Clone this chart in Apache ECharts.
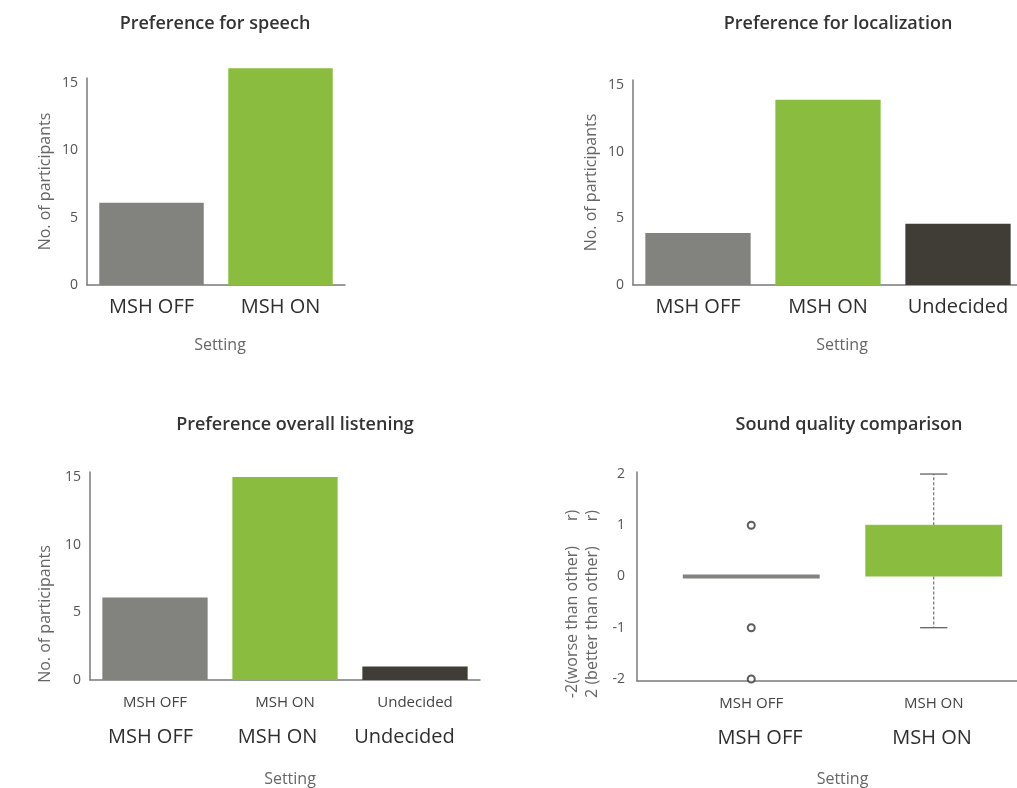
<!DOCTYPE html>
<html><head><meta charset="utf-8">
<script src="https://cdn.jsdelivr.net/npm/echarts@6/dist/echarts.min.js"></script>
<style>html,body{margin:0;padding:0;background:#fff;} #c{width:1017px;height:788px;}</style>
</head><body><div id="c"></div>
<script>
// ---- data ----
const speechCats = ['MSH OFF', 'MSH ON'];
const speechVals = [6.1, 16.1];
const locCats = ['MSH OFF', 'MSH ON', 'Undecided'];
const locVals = [3.9, 13.9, 4.6];
const overallCats = ['MSH OFF', 'MSH ON', 'Undecided'];
const overallVals = [6.1, 15, 1];
const sqCats = ['MSH OFF', 'MSH ON'];
// [min, Q1, median, Q3, max]
const sqBox = [[0, 0, 0, 0, 0], [-1, 0, 1, 1, 2]];
const sqOutliers = [[0, 1], [0, -1], [0, -2]];
const countTicks = [0, 5, 10, 15];
const sqTicks = [-2, -1, 0, 1, 2];
const titles = ['Preference for speech', 'Preference for localization', 'Preference overall listening', 'Sound quality comparison'];
const yNameCount = 'No. of participants';
const yNameSq = '-2(worse than other)      r)\n2 (better than other)      r)';
const xName = 'Setting';

// ---- styles ----
const FONT = 'Open Sans';
const barColors = ['#82827e', '#8abd3f', '#403d36'];
const axisLineStyle = { color: '#7a7a7a', width: 1.5 };

const chart = echarts.init(document.getElementById('c'), null, { renderer: 'canvas' });

function grid(l, r, t, b) {
  return { left: l, right: r, top: t, bottom: b, containLabel: false, outerBoundsMode: 'none' };
}
function catAxis(gi, data, o) {
  return Object.assign({
    type: 'category', gridIndex: gi, data: data,
    axisLine: { show: true, lineStyle: axisLineStyle },
    axisTick: { show: false },
    axisLabel: { interval: 0, fontSize: 20, color: '#2e2e2e', margin: 12, fontFamily: FONT },
    splitLine: { show: false }
  }, o || {});
}
function countAxis(gi, o) {
  return Object.assign({
    type: 'value', gridIndex: gi, min: 0, max: 15.37, interval: 5,
    axisLine: { show: true, lineStyle: axisLineStyle },
    axisTick: { show: false },
    splitLine: { show: false },
    axisLabel: {
      customValues: countTicks, color: '#555', fontSize: 14, margin: 9, fontFamily: FONT,
      formatter: v => (countTicks.indexOf(v) >= 0 ? String(v) : '')
    },
    name: yNameCount, nameLocation: 'middle', nameGap: 34,
    nameTextStyle: { fontSize: 16, color: '#666', fontFamily: FONT }
  }, o || {});
}
function hiddenY(gi) { return { type: 'value', gridIndex: gi, show: false, min: 0, max: 1 }; }
function bars(xi, vals) {
  return {
    type: 'bar', xAxisIndex: xi, yAxisIndex: xi, barCategoryGap: '19%', clip: false,
    data: vals.map((v, i) => ({ value: v, itemStyle: { color: barColors[i] } })),
    silent: true
  };
}
function titleAt(text, x, y) {
  return { text: text, left: x, top: y, textAlign: 'center',
    textStyle: { fontSize: 18, fontWeight: 600, color: '#333', fontFamily: FONT } };
}
const nameStyle = (pad) => ({ fontSize: 16, color: '#666', fontFamily: FONT, padding: pad });

const option = {
  animation: false,
  backgroundColor: '#fff',
  textStyle: { fontFamily: FONT },
  title: [
    titleAt(titles[0], 210, 10),
    titleAt(titles[1], 833, 10),
    titleAt(titles[2], 290, 411),
    titleAt(titles[3], 844, 411)
  ],
  grid: [
    grid(87, 672, 78, 503),     // 0 speech
    grid(633, -6, 80, 503),     // 1 localization
    grid(90, 537, 472, 108),    // 2 overall
    grid(87, 549, 472, 108),    // 3 overall big labels
    grid(660, -8, 472, 107),    // 4 sound quality
    grid(637, 0, 472, 107),     // 5 sound quality axis line
    grid(674, -1, 472, 107)     // 6 sound quality big labels
  ],
  xAxis: [
    catAxis(0, speechCats, { name: xName, nameLocation: 'middle', nameGap: 52, nameTextStyle: nameStyle([0, 0, 0, 8]) }),
    catAxis(1, locCats, { name: xName, nameLocation: 'middle', nameGap: 52, nameTextStyle: nameStyle([0, 0, 0, 28]) }),
    catAxis(2, overallCats, {
      axisLabel: { interval: 0, fontSize: 15, color: '#444', margin: 15, fontFamily: FONT },
      name: xName, nameLocation: 'middle', nameGap: 91, nameTextStyle: nameStyle([0, 0, 0, 10])
    }),
    catAxis(3, overallCats, { axisLine: { show: false }, axisLabel: { interval: 0, fontSize: 20, color: '#2e2e2e', margin: 47, fontFamily: FONT } }),
    catAxis(4, sqCats, {
      axisLine: { show: false },
      axisLabel: { interval: 0, fontSize: 15, color: '#444', margin: 15, fontFamily: FONT },
      name: xName, nameLocation: 'middle', nameGap: 90, nameTextStyle: nameStyle([0, 0, 0, 0])
    }),
    { type: 'value', gridIndex: 5, min: 0, max: 1, axisLine: { show: true, lineStyle: axisLineStyle },
      axisTick: { show: false }, axisLabel: { show: false }, splitLine: { show: false } },
    catAxis(6, sqCats, { axisLine: { show: false }, axisLabel: { interval: 0, fontSize: 20, color: '#2e2e2e', margin: 47, fontFamily: FONT } })
  ],
  yAxis: [
    countAxis(0),
    countAxis(1, { max: 15.375 }),
    countAxis(2, { nameTextStyle: { fontSize: 16, color: '#666', fontFamily: FONT, padding: [0, 76, 0, 0] }, nameGap: 37 }),
    hiddenY(3),
    {
      type: 'value', gridIndex: 4, min: -2.04, max: 2.04, offset: 23,
      axisLine: { show: true, lineStyle: axisLineStyle },
      axisTick: { show: false }, splitLine: { show: false },
      axisLabel: {
        customValues: sqTicks, color: '#555', fontSize: 14, margin: 12, fontFamily: FONT,
        formatter: v => (Number.isInteger(v) ? String(v) : '')
      },
      name: yNameSq, nameLocation: 'middle', nameGap: 35,
      nameTextStyle: { fontSize: 16, color: '#666', fontFamily: FONT, lineHeight: 20, padding: [0, 55, 0, 0] }
    },
    hiddenY(5),
    hiddenY(6)
  ],
  series: [
    bars(0, speechVals),
    bars(1, locVals),
    bars(2, overallVals),
    {
      type: 'custom', xAxisIndex: 4, yAxisIndex: 4, silent: true,
      data: sqBox.map((d, i) => [i].concat(d)),
      encode: { x: 0, y: [1, 2, 3, 4, 5] },
      renderItem: function (params, api) {
        const xi = api.value(0);
        const pMin = api.coord([xi, api.value(1)]);
        const pQ1 = api.coord([xi, api.value(2)]);
        const pMed = api.coord([xi, api.value(3)]);
        const pQ3 = api.coord([xi, api.value(4)]);
        const pMax = api.coord([xi, api.value(5)]);
        const band = api.size([1, 0])[0];
        const bw = band * 0.75;
        const cw = band * 0.15;
        const cx = pMed[0];
        const color = barColors[xi];
        const kids = [];
        const wStyle = { stroke: '#555', lineWidth: 1, lineDash: [3, 2] };
        const cStyle = { stroke: '#555', lineWidth: 1.2 };
        if (pMax[1] < pQ3[1] - 0.5) {
          kids.push({ type: 'line', shape: { x1: cx, y1: pQ3[1], x2: cx, y2: pMax[1] }, style: wStyle });
          kids.push({ type: 'line', shape: { x1: cx - cw / 2, y1: pMax[1], x2: cx + cw / 2, y2: pMax[1] }, style: cStyle });
        }
        if (pMin[1] > pQ1[1] + 0.5) {
          kids.push({ type: 'line', shape: { x1: cx, y1: pQ1[1], x2: cx, y2: pMin[1] }, style: wStyle });
          kids.push({ type: 'line', shape: { x1: cx - cw / 2, y1: pMin[1], x2: cx + cw / 2, y2: pMin[1] }, style: cStyle });
        }
        kids.push({ type: 'rect', shape: { x: cx - bw / 2, y: pQ3[1], width: bw, height: pQ1[1] - pQ3[1] }, style: { fill: color } });
        kids.push({ type: 'line', shape: { x1: cx - bw / 2, y1: pMed[1], x2: cx + bw / 2, y2: pMed[1] },
          style: { stroke: color, lineWidth: xi === 0 ? 4 : 1 } });
        return { type: 'group', children: kids };
      }
    },
    {
      type: 'scatter', xAxisIndex: 4, yAxisIndex: 4, silent: true,
      symbol: 'emptyCircle', symbolSize: 7,
      itemStyle: { color: '#333', borderColor: '#333', borderWidth: 1.3 },
      data: sqOutliers
    }
  ]
};
chart.setOption(option);
</script>
</body></html>
